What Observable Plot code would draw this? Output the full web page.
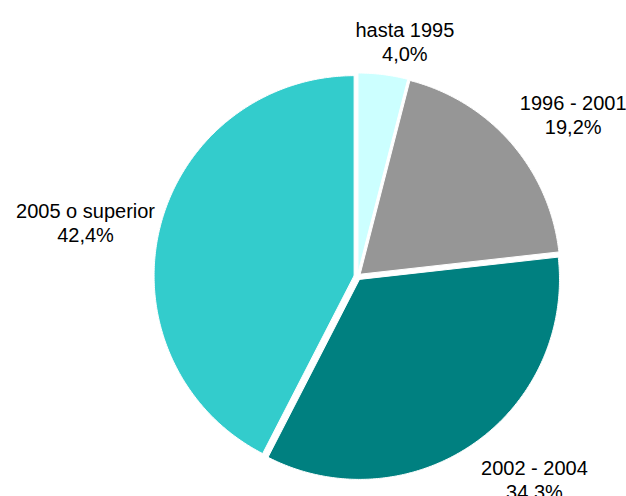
<!DOCTYPE html>
<html><head><meta charset="utf-8">
<script src="https://cdn.jsdelivr.net/npm/d3@7"></script>
<script src="https://cdn.jsdelivr.net/npm/@observablehq/plot@0.6"></script>
<style>body{margin:0;background:#fff;} svg{display:block;}</style>
</head><body><div id="chart"></div>
<script>
const categories = ["hasta 1995", "1996 - 2001", "2002 - 2004", "2005 o superior"];
const shares = [4.0, 19.2, 34.3, 42.4];
const colors = ["#CCFFFF", "#969696", "#008080", "#33CCCC"];

const W = 626, H = 496, cx = 357, cy = 276, R = 200, explode = 3.5, labelR = 250;
// per-label nudges (px) applied after placing each label along its slice's mid-angle
const nudges = {"hasta 1995": [16, 13], "1996 - 2001": [27, 2], "2002 - 2004": [35, -3], "2005 o superior": [-29, 5]};

const total = d3.sum(shares);
let acc = 0;
const slices = categories.map((c, i) => {
  const a0 = acc / total * 2 * Math.PI;
  acc += shares[i];
  const a1 = acc / total * 2 * Math.PI;
  return {category: c, value: shares[i], a0, a1, mid: (a0 + a1) / 2};
});

const pts = [];
for (const s of slices) {
  const ox = cx + explode * Math.sin(s.mid), oy = cy - explode * Math.cos(s.mid);
  pts.push({category: s.category, x: ox, y: oy});
  const n = Math.max(2, Math.ceil((s.a1 - s.a0) / (Math.PI / 360)));
  for (let k = 0; k <= n; k++) {
    const a = s.a0 + (s.a1 - s.a0) * k / n;
    pts.push({category: s.category, x: ox + R * Math.sin(a), y: oy - R * Math.cos(a)});
  }
  pts.push({category: s.category, x: ox, y: oy});
}

const labels = slices.map(s => {
  const [dx, dy] = nudges[s.category];
  return {
    x: cx + labelR * Math.sin(s.mid) + dx,
    y: cy - labelR * Math.cos(s.mid) + dy,
    text: s.category + "\n" + s.value.toFixed(1).replace(".", ",") + "%"
  };
});

const chart = Plot.plot({
  width: W, height: H,
  margin: 0,
  x: {domain: [0, W], range: [0, W], axis: null},
  y: {domain: [0, H], range: [0, H], axis: null},
  color: {domain: categories, range: colors},
  style: {fontFamily: "'Liberation Sans', Arial, sans-serif", background: "#fff"},
  marks: [
    Plot.line(pts, {x: "x", y: "y", z: "category", fill: "category", stroke: "white", strokeWidth: 1, curve: "linear"}),
    Plot.text(labels, {x: "x", y: "y", text: "text", fontSize: 20, lineHeight: 1.2, fill: "black", textAnchor: "middle", lineAnchor: "middle"})
  ]
});
document.getElementById("chart").appendChild(chart);
</script>
</body></html>
